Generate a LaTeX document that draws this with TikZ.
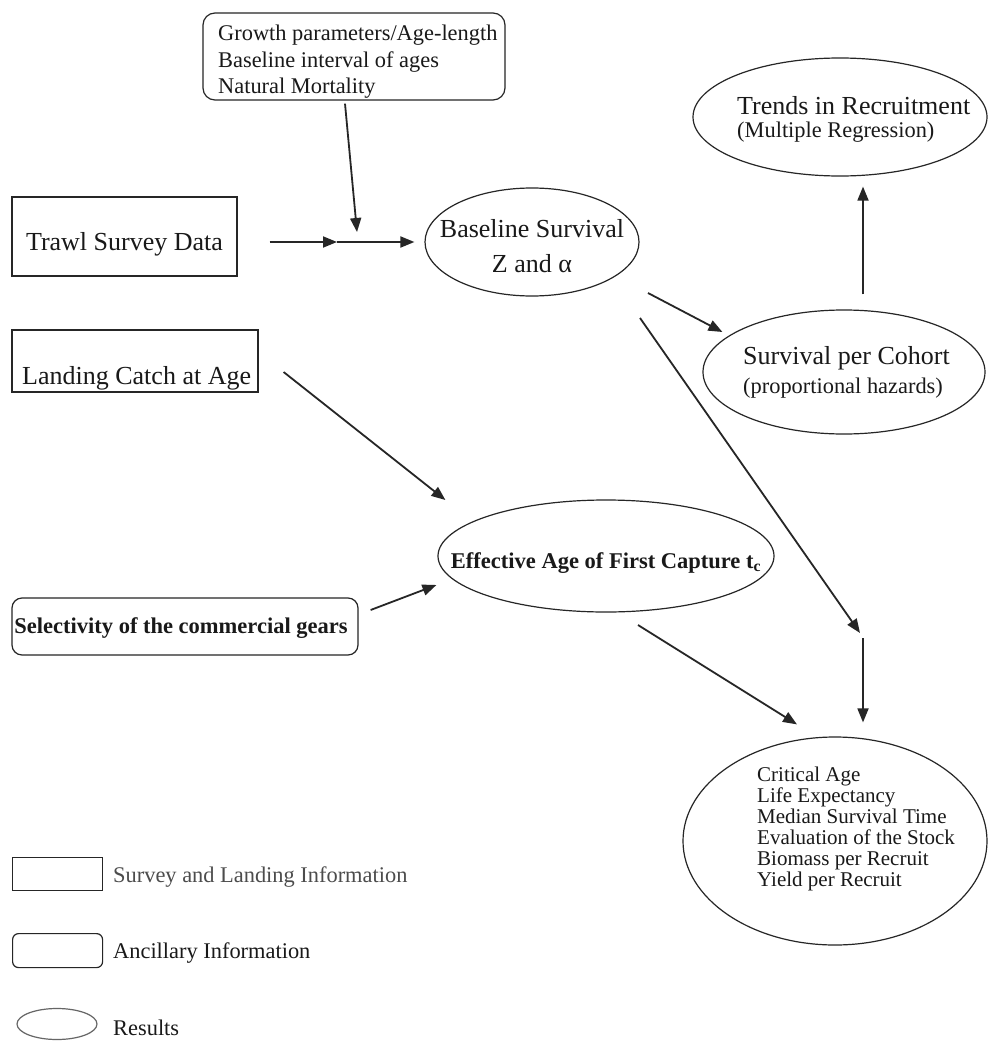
\documentclass[tikz,border=0pt]{standalone}
\usepackage{fontspec}
\setmainfont{Liberation Serif}
\usetikzlibrary{shapes.geometric,arrows.meta,calc}
\begin{document}
\begin{tikzpicture}[x=1pt,y=-1pt,
 box/.style={draw=black!85, line width=1.2pt, inner sep=0pt},
 rbox/.style={box, rounded corners=12pt},
 res/.style={draw=black!85, ellipse, line width=1.2pt, inner sep=0pt},
 arr/.style={draw=black!85, line width=1.8pt, -{Triangle[length=14pt,width=11pt]}},
 txt/.style={inner sep=0pt, anchor=base west, text=black!90},
 ctxt/.style={inner sep=0pt, anchor=base, text=black!90},
 fa/.style={font=\fontsize{26}{30}\selectfont},
 fb/.style={font=\fontsize{22.4}{26}\selectfont},
 fc/.style={font=\fontsize{21}{21}\selectfont},
 fbold/.style={font=\fontsize{22.5}{26}\selectfont\bfseries}]
\useasboundingbox (0,0) rectangle (989,1041);
\fill[white] (0,0) rectangle (989,1041);

% input boxes
\node[rbox, minimum width=302pt, minimum height=87pt] (growth) at (354,56.5) {};
\node[txt, fb] (g1) at (218,41) {Growth parameters/Age-length};
\node[txt, fb] (g2) at (218,67) {Baseline interval of ages};
\node[txt, fb] (g3) at (218,93) {Natural Mortality};

\node[box, minimum width=225pt, minimum height=79pt] (trawl) at (124.5,236.5) {};
\node[ctxt, fa] (trawlt) at (124.5,250) {Trawl Survey Data};

\node[box, minimum width=246pt, minimum height=62pt] (landing) at (135,361) {};
\node[txt, fa] (landingt) at (22,384) {Landing Catch at Age};

\node[rbox, rounded corners=10pt, minimum width=346pt, minimum height=57pt] (sel) at (185,626.5) {};
\node[ctxt, fbold] (selt) at (181,633) {Selectivity of the commercial gears};

% result ellipses
\node[res, minimum width=214pt, minimum height=108pt] (bs) at (532,242) {};
\node[ctxt, fa] (bs1) at (532,237) {Baseline Survival};
\node[ctxt, fa] (bs2) at (532,272) {Z and α};

\node[res, minimum width=294pt, minimum height=118pt] (tr) at (840,117) {};
\node[txt, fa] (tr1) at (737,114) {Trends in Recruitment};
\node[txt, fb] (tr2) at (737,137) {(Multiple Regression)};

\node[res, minimum width=282pt, minimum height=124pt] (sv) at (844,372) {};
\node[txt, fa] (sv1) at (743,364) {Survival per Cohort};
\node[txt, fb] (sv2) at (743,393) {(proportional hazards)};

\node[res, minimum width=336pt, minimum height=112pt] (eff) at (606,556) {};
\node[ctxt, fbold] (efft) at (606,568) {Effective Age of First Capture t\textsubscript{c}};

\node[res, minimum width=304pt, minimum height=208pt] (rs) at (835,841) {};
\node[txt, fc] (r1) at (757,781) {Critical Age};
\node[txt, fc] (r2) at (757,802) {Life Expectancy};
\node[txt, fc] (r3) at (757,823) {Median Survival Time};
\node[txt, fc] (r4) at (757,844) {Evaluation of the Stock};
\node[txt, fc] (r5) at (757,865) {Biomass per Recruit};
\node[txt, fc] (r6) at (757,886) {Yield per Recruit};

% connectors
\coordinate (junc) at (337,242);
\coordinate (mid) at (863,638);
\draw[arr] ($(growth.south)+(-9,3)$) -- ($(junc)+(20,-10)$);
\draw[arr] ($(trawl.east)+(32,5.5)$) -- (junc);
\draw[arr] (junc) -- ($(bs.west)+(-10,0)$);
\draw[arr] ($(landing.east)+(25,11)$) -- ($(eff.west)+(8,-56)$);
\draw[arr] ($(sel.east)+(12,-16.5)$) -- ($(eff.west)+(-1,29)$);
\draw[arr] ($(bs.center)+(116,51)$) -- ($(sv.west)+(20,-40)$);
\draw[arr] ($(bs.center)+(108,76)$) -- ($(mid)+(-3,-5)$);
\draw[arr] (mid) -- ($(rs.north)+(28,-14)$);
\draw[arr] ($(eff.center)+(32,69)$) -- ($(rs.north)+(-38,-12)$);
\draw[arr] ($(sv.north)+(19,-15)$) -- ($(tr.south)+(23,10)$);

% legend
\node[box, minimum width=90pt, minimum height=33pt, anchor=north west] (lg1) at (12,857) {};
\node[txt, fb, text=black!70] (lg1t) at (113,882) {Survey and Landing Information};
\node[rbox, rounded corners=6pt, minimum width=90pt, minimum height=34pt, anchor=north west] (lg2) at (12,933) {};
\node[txt, fb] (lg2t) at (113,958) {Ancillary Information};
\node[res, draw=black!60, minimum width=80pt, minimum height=31pt] (lg3) at (57,1024) {};
\node[txt, fb] (lg3t) at (113,1035) {Results};
\end{tikzpicture}
\end{document}
